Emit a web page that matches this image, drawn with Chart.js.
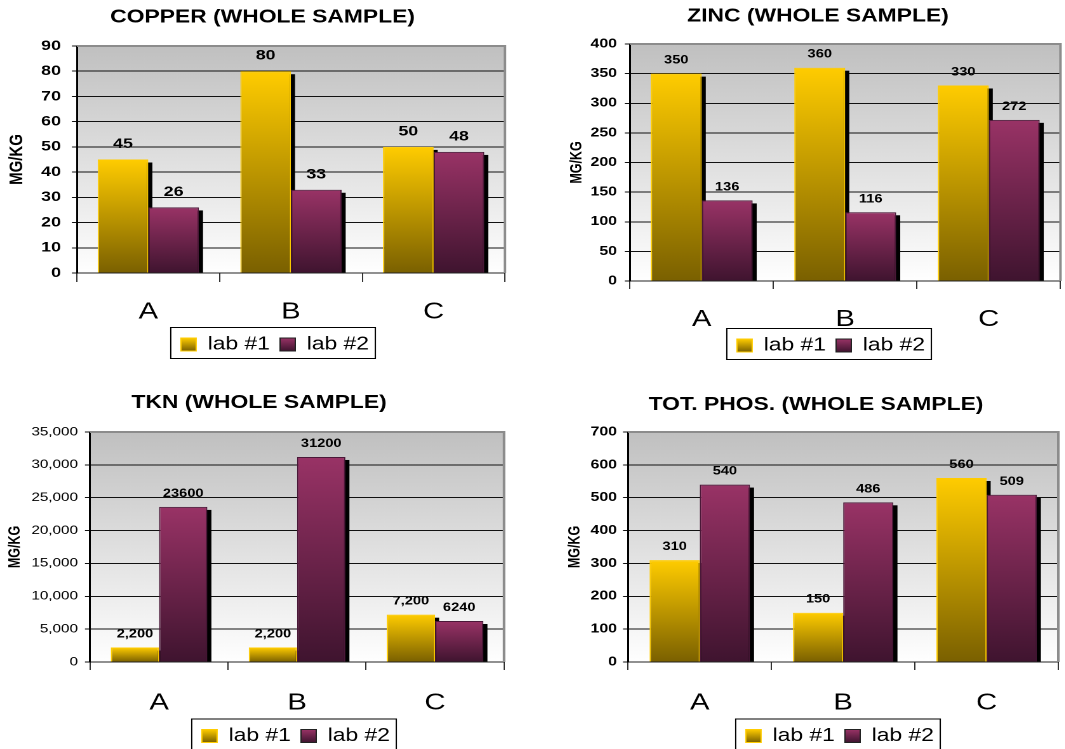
<!DOCTYPE html>
<html>
<head>
<meta charset="utf-8">
<script src="https://cdn.jsdelivr.net/npm/chart.js@4.4.1/dist/chart.umd.min.js"></script>
<style>
  html, body { margin: 0; padding: 0; background: #fff; }
  body { width: 1065px; height: 749px; overflow: hidden; position: relative; }
  .panel { position: absolute; transform: scaleX(1.27); transform-origin: 0 0; }
  .panel canvas { display: block; }
</style>
</head>
<body>
<div class="panel" style="left:0px;top:0px"><canvas id="copper" width="418" height="370"></canvas></div>
<div class="panel" style="left:530px;top:0px"><canvas id="zinc" width="422" height="370"></canvas></div>
<div class="panel" style="left:0px;top:380px"><canvas id="tkn" width="418" height="372"></canvas></div>
<div class="panel" style="left:530px;top:380px"><canvas id="phos" width="422" height="372"></canvas></div>
<script>
// ---- data -------------------------------------------------------------
const categories = ['A', 'B', 'C'];
const seriesNames = ['lab #1', 'lab #2'];

const copperLab1 = [45, 80, 50];
const copperLab2 = [26, 33, 48];
const zincLab1 = [350, 360, 330];
const zincLab2 = [136, 116, 272];
const tknLab1 = [2200, 2200, 7200];
const tknLab2 = [23600, 31200, 6240];
const phosLab1 = [310, 150, 560];
const phosLab2 = [540, 486, 509];

// value axis as [min, max, step]
const copperTicks = [0, 90, 10];
const zincTicks = [0, 400, 50];
const tknTicks = [0, 35000, 5000];
const phosTicks = [0, 700, 100];

// ---- styling ----------------------------------------------------------
const FONT = '"Liberation Sans", Arial, Helvetica, sans-serif';
const GOLD = { top: '#ffcc00', bottom: '#7a6000', edge: '#ffcc00' };
const PLUM = { top: '#993366', bottom: '#3f142f', edge: '#4a1838' };
const plain = v => String(v);
const grouped = v => v.toLocaleString('en-US');

Chart.defaults.font.family = FONT;
Chart.defaults.color = '#000';

// vertical gradient per bar, running from the bar top down to the zero line
function fillFor(pal) {
  return (c) => {
    if (c.type !== 'data' || !c.chart.chartArea) return pal.top;
    const ys = c.chart.scales.y;
    const y0 = ys.getPixelForValue(c.raw);
    const y1 = ys.getPixelForValue(0);
    if (!isFinite(y0) || y1 - y0 < 1) return pal.top;
    const g = c.chart.ctx.createLinearGradient(0, y0, 0, y1);
    g.addColorStop(0, pal.top);
    g.addColorStop(1, pal.bottom);
    return g;
  };
}

function panelPlugin(spec) {
  return {
    id: 'panel_' + spec.id,
    afterLayout(chart) {
      const t = chart.titleBlock;
      if (t) {
        const w = t.right - t.left, h = t.bottom - t.top;
        t.left = spec.titleX - w / 2; t.right = t.left + w;
        t.top = spec.titleY - 18 * 1.2 / 2; t.bottom = t.top + h;
      }
      const L = chart.legend;
      if (L) {
        const w = L.right - L.left, h = L.bottom - L.top;
        L.left = spec.legendX - w / 2; L.right = L.left + w;
        L.top = spec.legendY - 8 - 9; L.bottom = L.top + h;
      }
    },
    beforeDraw(chart) {
      const { ctx, chartArea: a } = chart;
      // plot background
      const g = ctx.createLinearGradient(0, a.top, 0, a.bottom);
      g.addColorStop(0, '#c0c0c0');
      g.addColorStop(1, '#ffffff');
      ctx.save();
      ctx.fillStyle = g;
      ctx.fillRect(a.left, a.top, a.right - a.left, a.bottom - a.top);
      // value labels above the bars (gridlines are painted over them afterwards)
      ctx.font = 'bold ' + spec.labelSize + 'px ' + FONT;
      ctx.fillStyle = '#000';
      ctx.textAlign = 'center';
      ctx.textBaseline = 'alphabetic';
      [spec.fmt1, spec.fmt2].forEach((fmt, di) => {
        const meta = chart.getDatasetMeta(di);
        const vals = chart.data.datasets[di].data;
        meta.data.forEach((el, i) => {
          ctx.fillText(fmt(vals[i]), el.x, el.y - spec.labelGap);
        });
      });
      ctx.restore();
    },
    beforeDatasetsDraw(chart) {
      const { ctx, chartArea: a } = chart;
      ctx.save();
      // plot frame, top and right
      ctx.strokeStyle = '#8c8c8c';
      ctx.lineWidth = 2;
      ctx.beginPath();
      ctx.moveTo(a.left, a.top);
      ctx.lineTo(a.right, a.top);
      ctx.lineTo(a.right, a.bottom);
      ctx.stroke();
      // hard black drop shadow to the lower right of every bar
      ctx.fillStyle = '#000';
      chart.data.datasets.forEach((ds, di) => {
        chart.getDatasetMeta(di).data.forEach(el => {
          const { x, y, base, width } = el.getProps(['x', 'y', 'base', 'width'], true);
          const top = y + 3;
          if (base - top > 0) ctx.fillRect(x - width / 2 + 3.2, top, width, base - top);
        });
      });
      ctx.restore();
    },
    afterDraw(chart) {
      const L = chart.legend;
      if (!L || !L.legendHitBoxes || !L.legendHitBoxes.length) return;
      const hb = L.legendHitBoxes;
      const left = hb[0].left - 8;
      const last = hb[hb.length - 1];
      const right = last.left + last.width + 5;
      const ctx = chart.ctx;
      ctx.save();
      ctx.strokeStyle = '#000';
      ctx.lineWidth = 1;
      ctx.strokeRect(left, spec.legendY - 17, right - left, 31);
      ctx.restore();
    }
  };
}

function makeChart(spec) {
  const palettes = [GOLD, PLUM];
  const xH = spec.H - 36 - spec.area.b;
  return new Chart(document.getElementById(spec.id), {
    type: 'bar',
    data: {
      labels: categories,
      datasets: [
        { label: seriesNames[0], data: spec.lab1, backgroundColor: fillFor(GOLD),
          borderColor: GOLD.edge, borderWidth: 1 },
        { label: seriesNames[1], data: spec.lab2, backgroundColor: fillFor(PLUM),
          borderColor: PLUM.edge, borderWidth: 1 }
      ]
    },
    options: {
      responsive: false,
      animation: false,
      devicePixelRatio: 2,
      events: [],
      layout: { padding: { left: 0, right: spec.W - spec.area.r, top: spec.area.t - 21.6, bottom: 0 } },
      datasets: { bar: { categoryPercentage: spec.catPct, barPercentage: 1 } },
      plugins: {
        title: { display: true, text: spec.title, color: '#000', padding: 0,
                 font: { size: 18, weight: 'bold', family: FONT } },
        legend: {
          display: true, position: 'bottom',
          labels: {
            boxWidth: 12, boxHeight: 13, padding: 8, color: '#000',
            font: { size: 18, family: FONT },
            generateLabels(chart) {
              const items = Chart.defaults.plugins.legend.labels.generateLabels(chart);
              items.forEach(it => {
                const p = palettes[it.datasetIndex];
                const g = chart.ctx.createLinearGradient(0, spec.legendY - 6.5, 0, spec.legendY + 6.5);
                g.addColorStop(0, p.top);
                g.addColorStop(1, p.bottom);
                it.fillStyle = g;
                it.strokeStyle = it.datasetIndex === 0 ? GOLD.edge : '#222';
                it.lineWidth = 1;
              });
              return items;
            }
          }
        },
        tooltip: { enabled: false }
      },
      scales: {
        x: {
          offset: true,
          grid: { offset: true, drawOnChartArea: false, drawTicks: true,
                  tickLength: spec.xTickLen, color: '#333' },
          border: { color: '#222', width: 1 },
          ticks: { font: { size: 23, family: FONT }, color: '#000', padding: spec.xTickPad,
                   maxRotation: 0, autoSkip: false },
          afterFit: s => { s.height = xH; }
        },
        y: {
          min: spec.ticks[0], max: spec.ticks[1],
          grid: { color: '#111', lineWidth: 1, drawTicks: true, tickLength: 4 },
          border: { color: '#000', width: 1.5 },
          ticks: { stepSize: spec.ticks[2], color: '#000', padding: spec.yTickPad,
                   font: { size: spec.yFont.size, weight: spec.yFont.weight, family: FONT },
                   callback: v => spec.yFmt(v) },
          title: { display: true, text: 'MG/KG', color: '#000',
                   font: { size: spec.yTitle.size, weight: 'bold', family: FONT },
                   padding: { top: spec.yTitle.pad, bottom: 0 } },
          afterFit: s => { s.width = spec.area.l; }
        }
      }
    },
    plugins: [panelPlugin(spec)]
  });
}

makeChart({
  id: 'copper', title: 'COPPER (WHOLE SAMPLE)', lab1: copperLab1, lab2: copperLab2, ticks: copperTicks,
  W: 418, H: 370, area: { l: 60.6, r: 397.6, t: 46, b: 273 },
  titleX: 206.7, titleY: 17.5, legendX: 216.5, legendY: 344.5,
  yFont: { size: 14, weight: 'bold' }, yTickPad: 8.6, yFmt: plain, yTitle: { size: 15, pad: 4.4 },
  xTickLen: 9, xTickPad: 16.2, catPct: 0.71, labelSize: 14, labelGap: 11.5,
  fmt1: plain, fmt2: plain
});
makeChart({
  id: 'zinc', title: 'ZINC (WHOLE SAMPLE)', lab1: zincLab1, lab2: zincLab2, ticks: zincTicks,
  W: 422, H: 370, area: { l: 78.7, r: 417.7, t: 44, b: 281 },
  titleX: 226.8, titleY: 16.7, legendX: 237, legendY: 345.5,
  yFont: { size: 12.5, weight: 'bold' }, yTickPad: 6.2, yFmt: plain, yTitle: { size: 12.5, pad: 29.5 },
  xTickLen: 8, xTickPad: 16.7, catPct: 0.71, labelSize: 11.5, labelGap: 10,
  fmt1: plain, fmt2: plain
});
makeChart({
  id: 'tkn', title: 'TKN (WHOLE SAMPLE)', lab1: tknLab1, lab2: tknLab2, ticks: tknTicks,
  W: 418, H: 372, area: { l: 70.9, r: 396.9, t: 52, b: 282 },
  titleX: 204, titleY: 23, legendX: 233, legendY: 356,
  yFont: { size: 12, weight: 'normal' }, yTickPad: 5.5, yFmt: grouped, yTitle: { size: 12.5, pad: 4.3 },
  xTickLen: 8, xTickPad: 19.2, catPct: 0.70, labelSize: 11.5, labelGap: 10,
  fmt1: grouped, fmt2: plain
});
makeChart({
  id: 'phos', title: 'TOT. PHOS. (WHOLE SAMPLE)', lab1: phosLab1, lab2: phosLab2, ticks: phosTicks,
  W: 422, H: 372, area: { l: 77.2, r: 416, t: 52, b: 282 },
  titleX: 225.2, titleY: 25, legendX: 244, legendY: 356,
  yFont: { size: 12.5, weight: 'bold' }, yTickPad: 4.7, yFmt: plain, yTitle: { size: 12.5, pad: 27.9 },
  xTickLen: 8, xTickPad: 19.2, catPct: 0.70, labelSize: 11.5, labelGap: 10,
  fmt1: plain, fmt2: plain
});
</script>
</body>
</html>
